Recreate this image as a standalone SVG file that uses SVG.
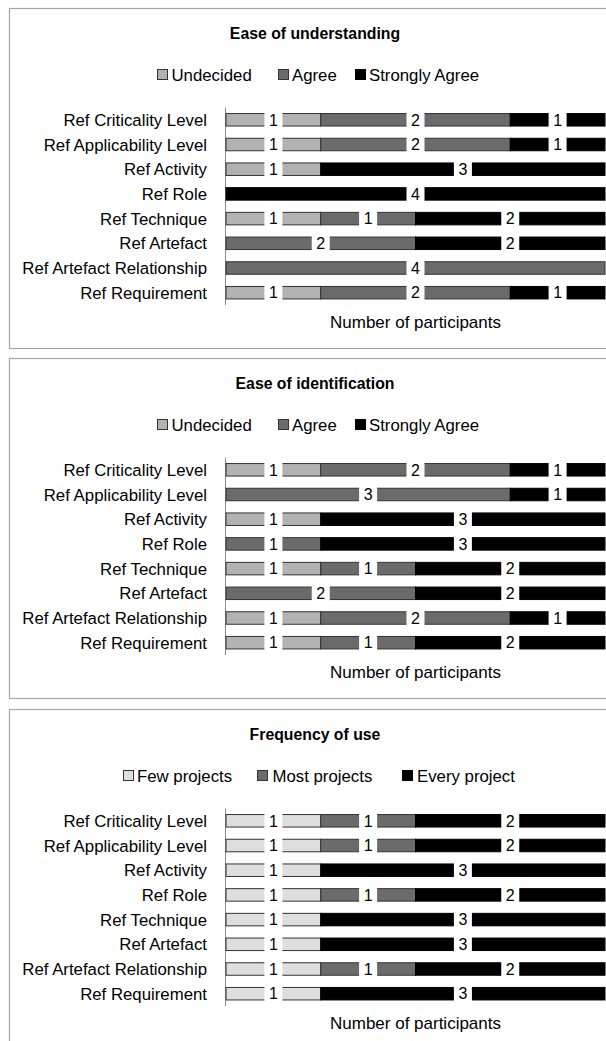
<svg xmlns="http://www.w3.org/2000/svg" width="606" height="1041" viewBox="0 0 606 1041">
<style>
text{font-family:"Liberation Sans",Arial,sans-serif;fill:#000}
.frame{fill:#fff;stroke:#a6a6a6;stroke-width:1.2}
.title{font-size:15.8px;font-weight:bold;text-anchor:middle}
.leg{font-size:16.8px}
.cat{font-size:16.8px;text-anchor:end}
.num{font-size:16px;text-anchor:middle}
.xt{font-size:17px;text-anchor:middle}
.seg{stroke:#333;stroke-width:1}
.u{fill:#b2b2b2}
.a{fill:#6b6b6b}
.f{fill:#dedede}
.s{fill:#000;stroke:#000}
.gap{fill:#fff}
.axis{stroke:#8c8c8c;stroke-width:1}
</style>
<rect width="606" height="1041" fill="#fff"/>

<!-- Chart 1 -->
<g id="chart-understanding">
<rect class="frame" x="9.5" y="8.5" width="700" height="340"/>
<text class="title" x="315" y="39">Ease of understanding</text>
<g id="legend-1">
<rect class="seg u" x="157.5" y="69.5" width="10" height="10"/><text class="leg" x="171.5" y="80.5">Undecided</text>
<rect class="seg a" x="278.5" y="69.5" width="10" height="10"/><text class="leg" x="292" y="80.5">Agree</text>
<rect class="seg s" x="355.5" y="69.5" width="10" height="10"/><text class="leg" x="369" y="80.5">Strongly Agree</text>
</g>
<line class="axis" x1="225.5" y1="107.5" x2="225.5" y2="305"/>
<g id="c1-r1" transform="translate(0,119.8)">
<text class="cat" x="207" y="6">Ref Criticality Level</text>
<rect class="seg u" x="226" y="-6.25" width="94.75" height="12.5"/><rect class="seg a" x="320.75" y="-6.25" width="189.5" height="12.5"/><rect class="seg s" x="510.25" y="-6.25" width="94.75" height="12.5"/>
<rect class="gap" x="264.4" y="-8" width="18" height="16"/><text class="num" x="273.4" y="5.7">1</text>
<rect class="gap" x="406.5" y="-8" width="18" height="16"/><text class="num" x="415.5" y="5.7">2</text>
<rect class="gap" x="548.6" y="-8" width="18" height="16"/><text class="num" x="557.6" y="5.7">1</text>
</g>
<g id="c1-r2" transform="translate(0,144.5)">
<text class="cat" x="207" y="6">Ref Applicability Level</text>
<rect class="seg u" x="226" y="-6.25" width="94.75" height="12.5"/><rect class="seg a" x="320.75" y="-6.25" width="189.5" height="12.5"/><rect class="seg s" x="510.25" y="-6.25" width="94.75" height="12.5"/>
<rect class="gap" x="264.4" y="-8" width="18" height="16"/><text class="num" x="273.4" y="5.7">1</text>
<rect class="gap" x="406.5" y="-8" width="18" height="16"/><text class="num" x="415.5" y="5.7">2</text>
<rect class="gap" x="548.6" y="-8" width="18" height="16"/><text class="num" x="557.6" y="5.7">1</text>
</g>
<g id="c1-r3" transform="translate(0,169.2)">
<text class="cat" x="207" y="6">Ref Activity</text>
<rect class="seg u" x="226" y="-6.25" width="94.75" height="12.5"/><rect class="seg s" x="320.75" y="-6.25" width="284.25" height="12.5"/>
<rect class="gap" x="264.4" y="-8" width="18" height="16"/><text class="num" x="273.4" y="5.7">1</text>
<rect class="gap" x="453.9" y="-8" width="18" height="16"/><text class="num" x="462.9" y="5.7">3</text>
</g>
<g id="c1-r4" transform="translate(0,193.9)">
<text class="cat" x="207" y="6">Ref Role</text>
<rect class="seg s" x="226" y="-6.25" width="379" height="12.5"/>
<rect class="gap" x="406.5" y="-8" width="18" height="16"/><text class="num" x="415.5" y="5.7">4</text>
</g>
<g id="c1-r5" transform="translate(0,218.6)">
<text class="cat" x="207" y="6">Ref Technique</text>
<rect class="seg u" x="226" y="-6.25" width="94.75" height="12.5"/><rect class="seg a" x="320.75" y="-6.25" width="94.75" height="12.5"/><rect class="seg s" x="415.5" y="-6.25" width="189.5" height="12.5"/>
<rect class="gap" x="264.4" y="-8" width="18" height="16"/><text class="num" x="273.4" y="5.7">1</text>
<rect class="gap" x="359.1" y="-8" width="18" height="16"/><text class="num" x="368.1" y="5.7">1</text>
<rect class="gap" x="501.25" y="-8" width="18" height="16"/><text class="num" x="510.25" y="5.7">2</text>
</g>
<g id="c1-r6" transform="translate(0,243.3)">
<text class="cat" x="207" y="6">Ref Artefact</text>
<rect class="seg a" x="226" y="-6.25" width="189.5" height="12.5"/><rect class="seg s" x="415.5" y="-6.25" width="189.5" height="12.5"/>
<rect class="gap" x="311.75" y="-8" width="18" height="16"/><text class="num" x="320.75" y="5.7">2</text>
<rect class="gap" x="501.25" y="-8" width="18" height="16"/><text class="num" x="510.25" y="5.7">2</text>
</g>
<g id="c1-r7" transform="translate(0,268)">
<text class="cat" x="207" y="6">Ref Artefact Relationship</text>
<rect class="seg a" x="226" y="-6.25" width="379" height="12.5"/>
<rect class="gap" x="406.5" y="-8" width="18" height="16"/><text class="num" x="415.5" y="5.7">4</text>
</g>
<g id="c1-r8" transform="translate(0,292.7)">
<text class="cat" x="207" y="6">Ref Requirement</text>
<rect class="seg u" x="226" y="-6.25" width="94.75" height="12.5"/><rect class="seg a" x="320.75" y="-6.25" width="189.5" height="12.5"/><rect class="seg s" x="510.25" y="-6.25" width="94.75" height="12.5"/>
<rect class="gap" x="264.4" y="-8" width="18" height="16"/><text class="num" x="273.4" y="5.7">1</text>
<rect class="gap" x="406.5" y="-8" width="18" height="16"/><text class="num" x="415.5" y="5.7">2</text>
<rect class="gap" x="548.6" y="-8" width="18" height="16"/><text class="num" x="557.6" y="5.7">1</text>
</g>
<text class="xt" x="415.5" y="327.5">Number of participants</text>
</g>

<!-- Chart 2 -->
<g id="chart-identification" transform="translate(0,350)">
<rect class="frame" x="9.5" y="8.5" width="700" height="340"/>
<text class="title" x="315" y="39">Ease of identification</text>
<g id="legend-2">
<rect class="seg u" x="157.5" y="69.5" width="10" height="10"/><text class="leg" x="171.5" y="80.5">Undecided</text>
<rect class="seg a" x="278.5" y="69.5" width="10" height="10"/><text class="leg" x="292" y="80.5">Agree</text>
<rect class="seg s" x="355.5" y="69.5" width="10" height="10"/><text class="leg" x="369" y="80.5">Strongly Agree</text>
</g>
<line class="axis" x1="225.5" y1="107.5" x2="225.5" y2="305"/>
<g id="c2-r1" transform="translate(0,119.8)">
<text class="cat" x="207" y="6">Ref Criticality Level</text>
<rect class="seg u" x="226" y="-6.25" width="94.75" height="12.5"/><rect class="seg a" x="320.75" y="-6.25" width="189.5" height="12.5"/><rect class="seg s" x="510.25" y="-6.25" width="94.75" height="12.5"/>
<rect class="gap" x="264.4" y="-8" width="18" height="16"/><text class="num" x="273.4" y="5.7">1</text>
<rect class="gap" x="406.5" y="-8" width="18" height="16"/><text class="num" x="415.5" y="5.7">2</text>
<rect class="gap" x="548.6" y="-8" width="18" height="16"/><text class="num" x="557.6" y="5.7">1</text>
</g>
<g id="c2-r2" transform="translate(0,144.5)">
<text class="cat" x="207" y="6">Ref Applicability Level</text>
<rect class="seg a" x="226" y="-6.25" width="284.25" height="12.5"/><rect class="seg s" x="510.25" y="-6.25" width="94.75" height="12.5"/>
<rect class="gap" x="359.1" y="-8" width="18" height="16"/><text class="num" x="368.1" y="5.7">3</text>
<rect class="gap" x="548.6" y="-8" width="18" height="16"/><text class="num" x="557.6" y="5.7">1</text>
</g>
<g id="c2-r3" transform="translate(0,169.2)">
<text class="cat" x="207" y="6">Ref Activity</text>
<rect class="seg u" x="226" y="-6.25" width="94.75" height="12.5"/><rect class="seg s" x="320.75" y="-6.25" width="284.25" height="12.5"/>
<rect class="gap" x="264.4" y="-8" width="18" height="16"/><text class="num" x="273.4" y="5.7">1</text>
<rect class="gap" x="453.9" y="-8" width="18" height="16"/><text class="num" x="462.9" y="5.7">3</text>
</g>
<g id="c2-r4" transform="translate(0,193.9)">
<text class="cat" x="207" y="6">Ref Role</text>
<rect class="seg a" x="226" y="-6.25" width="94.75" height="12.5"/><rect class="seg s" x="320.75" y="-6.25" width="284.25" height="12.5"/>
<rect class="gap" x="264.4" y="-8" width="18" height="16"/><text class="num" x="273.4" y="5.7">1</text>
<rect class="gap" x="453.9" y="-8" width="18" height="16"/><text class="num" x="462.9" y="5.7">3</text>
</g>
<g id="c2-r5" transform="translate(0,218.6)">
<text class="cat" x="207" y="6">Ref Technique</text>
<rect class="seg u" x="226" y="-6.25" width="94.75" height="12.5"/><rect class="seg a" x="320.75" y="-6.25" width="94.75" height="12.5"/><rect class="seg s" x="415.5" y="-6.25" width="189.5" height="12.5"/>
<rect class="gap" x="264.4" y="-8" width="18" height="16"/><text class="num" x="273.4" y="5.7">1</text>
<rect class="gap" x="359.1" y="-8" width="18" height="16"/><text class="num" x="368.1" y="5.7">1</text>
<rect class="gap" x="501.25" y="-8" width="18" height="16"/><text class="num" x="510.25" y="5.7">2</text>
</g>
<g id="c2-r6" transform="translate(0,243.3)">
<text class="cat" x="207" y="6">Ref Artefact</text>
<rect class="seg a" x="226" y="-6.25" width="189.5" height="12.5"/><rect class="seg s" x="415.5" y="-6.25" width="189.5" height="12.5"/>
<rect class="gap" x="311.75" y="-8" width="18" height="16"/><text class="num" x="320.75" y="5.7">2</text>
<rect class="gap" x="501.25" y="-8" width="18" height="16"/><text class="num" x="510.25" y="5.7">2</text>
</g>
<g id="c2-r7" transform="translate(0,268)">
<text class="cat" x="207" y="6">Ref Artefact Relationship</text>
<rect class="seg u" x="226" y="-6.25" width="94.75" height="12.5"/><rect class="seg a" x="320.75" y="-6.25" width="189.5" height="12.5"/><rect class="seg s" x="510.25" y="-6.25" width="94.75" height="12.5"/>
<rect class="gap" x="264.4" y="-8" width="18" height="16"/><text class="num" x="273.4" y="5.7">1</text>
<rect class="gap" x="406.5" y="-8" width="18" height="16"/><text class="num" x="415.5" y="5.7">2</text>
<rect class="gap" x="548.6" y="-8" width="18" height="16"/><text class="num" x="557.6" y="5.7">1</text>
</g>
<g id="c2-r8" transform="translate(0,292.7)">
<text class="cat" x="207" y="6">Ref Requirement</text>
<rect class="seg u" x="226" y="-6.25" width="94.75" height="12.5"/><rect class="seg a" x="320.75" y="-6.25" width="94.75" height="12.5"/><rect class="seg s" x="415.5" y="-6.25" width="189.5" height="12.5"/>
<rect class="gap" x="264.4" y="-8" width="18" height="16"/><text class="num" x="273.4" y="5.7">1</text>
<rect class="gap" x="359.1" y="-8" width="18" height="16"/><text class="num" x="368.1" y="5.7">1</text>
<rect class="gap" x="501.25" y="-8" width="18" height="16"/><text class="num" x="510.25" y="5.7">2</text>
</g>
<text class="xt" x="415.5" y="327.5">Number of participants</text>
</g>

<!-- Chart 3 -->
<g id="chart-frequency" transform="translate(0,701)">
<rect class="frame" x="9.5" y="8.5" width="700" height="360"/>
<text class="title" x="315" y="39">Frequency of use</text>
<g id="legend-3">
<rect class="seg f" x="123.5" y="69.5" width="10" height="10"/><text class="leg" x="137" y="80.5">Few projects</text>
<rect class="seg a" x="257.5" y="69.5" width="10" height="10"/><text class="leg" x="272.5" y="80.5">Most projects</text>
<rect class="seg s" x="402.5" y="69.5" width="10" height="10"/><text class="leg" x="417" y="80.5">Every project</text>
</g>
<line class="axis" x1="225.5" y1="107.5" x2="225.5" y2="305"/>
<g id="c3-r1" transform="translate(0,119.8)">
<text class="cat" x="207" y="6">Ref Criticality Level</text>
<rect class="seg f" x="226" y="-6.25" width="94.75" height="12.5"/><rect class="seg a" x="320.75" y="-6.25" width="94.75" height="12.5"/><rect class="seg s" x="415.5" y="-6.25" width="189.5" height="12.5"/>
<rect class="gap" x="264.4" y="-8" width="18" height="16"/><text class="num" x="273.4" y="5.7">1</text>
<rect class="gap" x="359.1" y="-8" width="18" height="16"/><text class="num" x="368.1" y="5.7">1</text>
<rect class="gap" x="501.25" y="-8" width="18" height="16"/><text class="num" x="510.25" y="5.7">2</text>
</g>
<g id="c3-r2" transform="translate(0,144.5)">
<text class="cat" x="207" y="6">Ref Applicability Level</text>
<rect class="seg f" x="226" y="-6.25" width="94.75" height="12.5"/><rect class="seg a" x="320.75" y="-6.25" width="94.75" height="12.5"/><rect class="seg s" x="415.5" y="-6.25" width="189.5" height="12.5"/>
<rect class="gap" x="264.4" y="-8" width="18" height="16"/><text class="num" x="273.4" y="5.7">1</text>
<rect class="gap" x="359.1" y="-8" width="18" height="16"/><text class="num" x="368.1" y="5.7">1</text>
<rect class="gap" x="501.25" y="-8" width="18" height="16"/><text class="num" x="510.25" y="5.7">2</text>
</g>
<g id="c3-r3" transform="translate(0,169.2)">
<text class="cat" x="207" y="6">Ref Activity</text>
<rect class="seg f" x="226" y="-6.25" width="94.75" height="12.5"/><rect class="seg s" x="320.75" y="-6.25" width="284.25" height="12.5"/>
<rect class="gap" x="264.4" y="-8" width="18" height="16"/><text class="num" x="273.4" y="5.7">1</text>
<rect class="gap" x="453.9" y="-8" width="18" height="16"/><text class="num" x="462.9" y="5.7">3</text>
</g>
<g id="c3-r4" transform="translate(0,193.9)">
<text class="cat" x="207" y="6">Ref Role</text>
<rect class="seg f" x="226" y="-6.25" width="94.75" height="12.5"/><rect class="seg a" x="320.75" y="-6.25" width="94.75" height="12.5"/><rect class="seg s" x="415.5" y="-6.25" width="189.5" height="12.5"/>
<rect class="gap" x="264.4" y="-8" width="18" height="16"/><text class="num" x="273.4" y="5.7">1</text>
<rect class="gap" x="359.1" y="-8" width="18" height="16"/><text class="num" x="368.1" y="5.7">1</text>
<rect class="gap" x="501.25" y="-8" width="18" height="16"/><text class="num" x="510.25" y="5.7">2</text>
</g>
<g id="c3-r5" transform="translate(0,218.6)">
<text class="cat" x="207" y="6">Ref Technique</text>
<rect class="seg f" x="226" y="-6.25" width="94.75" height="12.5"/><rect class="seg s" x="320.75" y="-6.25" width="284.25" height="12.5"/>
<rect class="gap" x="264.4" y="-8" width="18" height="16"/><text class="num" x="273.4" y="5.7">1</text>
<rect class="gap" x="453.9" y="-8" width="18" height="16"/><text class="num" x="462.9" y="5.7">3</text>
</g>
<g id="c3-r6" transform="translate(0,243.3)">
<text class="cat" x="207" y="6">Ref Artefact</text>
<rect class="seg f" x="226" y="-6.25" width="94.75" height="12.5"/><rect class="seg s" x="320.75" y="-6.25" width="284.25" height="12.5"/>
<rect class="gap" x="264.4" y="-8" width="18" height="16"/><text class="num" x="273.4" y="5.7">1</text>
<rect class="gap" x="453.9" y="-8" width="18" height="16"/><text class="num" x="462.9" y="5.7">3</text>
</g>
<g id="c3-r7" transform="translate(0,268)">
<text class="cat" x="207" y="6">Ref Artefact Relationship</text>
<rect class="seg f" x="226" y="-6.25" width="94.75" height="12.5"/><rect class="seg a" x="320.75" y="-6.25" width="94.75" height="12.5"/><rect class="seg s" x="415.5" y="-6.25" width="189.5" height="12.5"/>
<rect class="gap" x="264.4" y="-8" width="18" height="16"/><text class="num" x="273.4" y="5.7">1</text>
<rect class="gap" x="359.1" y="-8" width="18" height="16"/><text class="num" x="368.1" y="5.7">1</text>
<rect class="gap" x="501.25" y="-8" width="18" height="16"/><text class="num" x="510.25" y="5.7">2</text>
</g>
<g id="c3-r8" transform="translate(0,292.7)">
<text class="cat" x="207" y="6">Ref Requirement</text>
<rect class="seg f" x="226" y="-6.25" width="94.75" height="12.5"/><rect class="seg s" x="320.75" y="-6.25" width="284.25" height="12.5"/>
<rect class="gap" x="264.4" y="-8" width="18" height="16"/><text class="num" x="273.4" y="5.7">1</text>
<rect class="gap" x="453.9" y="-8" width="18" height="16"/><text class="num" x="462.9" y="5.7">3</text>
</g>
<text class="xt" x="415.5" y="327.5">Number of participants</text>
</g>
</svg>
